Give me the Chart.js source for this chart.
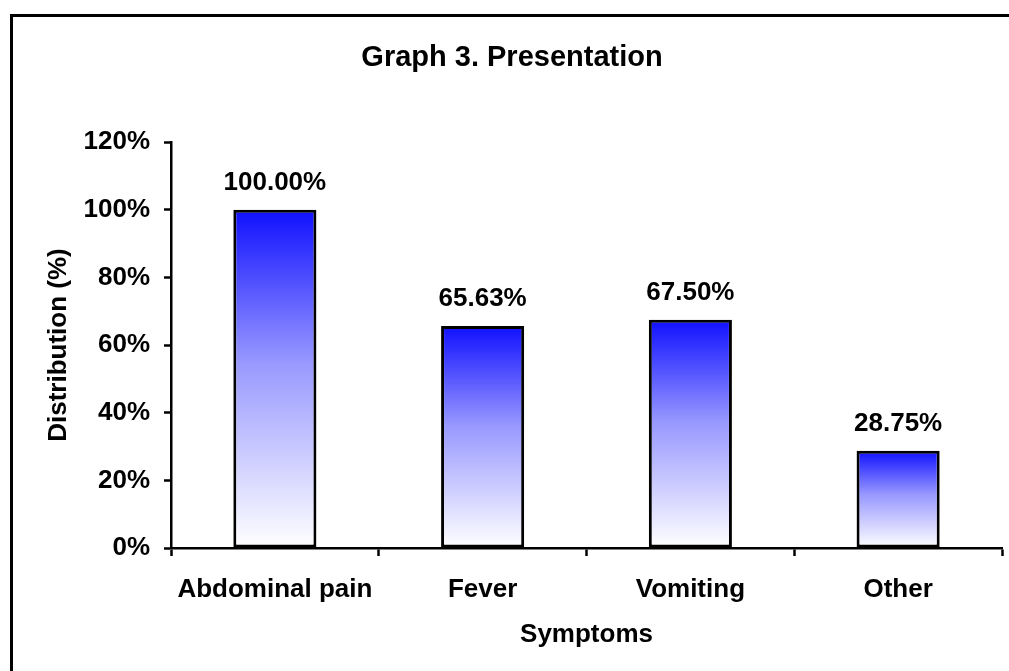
<!DOCTYPE html>
<html>
<head>
<meta charset="utf-8">
<title>Graph 3. Presentation</title>
<script src="https://cdn.jsdelivr.net/npm/chart.js@4.4.1/dist/chart.umd.min.js"></script>
<style>
  html, body { margin: 0; padding: 0; background: #ffffff; }
  #wrap { width: 1009px; height: 671px; position: relative; }
</style>
</head>
<body>
<div id="wrap"><canvas id="chart" width="1009" height="671"></canvas></div>
<script>
// Presenting symptoms and the share of patients with each one
const categories = ['Abdominal pain', 'Fever', 'Vomiting', 'Other'];
const distribution = [100.00, 65.63, 67.50, 28.75];
const yTicks = [0, 20, 40, 60, 80, 100, 120];

const FONT = "'Liberation Sans', Arial, Helvetica, sans-serif";

// White page with a black frame around the whole figure
const framePlugin = {
  id: 'frame',
  beforeDraw(chart) {
    const c = chart.ctx;
    c.save();
    c.fillStyle = '#ffffff';
    c.fillRect(0, 0, chart.width, chart.height);
    c.strokeStyle = '#000000';
    c.lineWidth = 3;
    c.strokeRect(11.5, 15.5, chart.width + 20, chart.height + 20);
    c.restore();
  }
};

// Percentage written above each bar
const valueLabels = {
  id: 'valueLabels',
  afterDatasetsDraw(chart) {
    const c = chart.ctx;
    const meta = chart.getDatasetMeta(0);
    c.save();
    c.font = 'bold 26px ' + FONT;
    c.fillStyle = '#000000';
    c.textAlign = 'center';
    c.textBaseline = 'alphabetic';
    meta.data.forEach((bar, i) => {
      const v = chart.data.datasets[0].data[i];
      c.fillText(v.toFixed(2) + '%', bar.x, bar.y - 20);
    });
    c.restore();
  }
};

// Each bar fades from blue at its top to white at the axis
function barGradient(context) {
  const chart = context.chart;
  if (!chart.chartArea) return '#3030ff';
  const y = chart.scales.y;
  const top = y.getPixelForValue(context.raw);
  const base = y.getPixelForValue(0);
  const g = chart.ctx.createLinearGradient(0, top, 0, base);
  g.addColorStop(0, '#1010ff');
  g.addColorStop(0.45, '#9898ff');
  g.addColorStop(1, '#ffffff');
  return g;
}

new Chart(document.getElementById('chart'), {
  type: 'bar',
  data: {
    labels: categories,
    datasets: [{
      data: distribution,
      backgroundColor: barGradient,
      borderColor: '#000000',
      borderWidth: 3,
      borderSkipped: false,
      barPercentage: 0.4,
      categoryPercentage: 1.0
    }]
  },
  options: {
    responsive: false,
    animation: false,
    layout: { padding: { left: 22, right: 7, top: 0, bottom: 0 } },
    plugins: {
      legend: { display: false },
      tooltip: { enabled: false },
      title: {
        display: true,
        text: 'Graph 3. Presentation',
        color: '#000000',
        font: { family: FONT, size: 29, weight: 'bold', lineHeight: 1.2 },
        padding: { top: 40.6, bottom: 66.6 }
      }
    },
    scales: {
      x: {
        afterFit(scale) { scale.height = 123; },
        grid: {
          drawOnChartArea: false,
          offset: true,
          tickLength: 8,
          tickWidth: 2.5,
          color: '#000000'
        },
        border: { display: true, color: '#000000', width: 2.5 },
        ticks: {
          color: '#000000',
          padding: 18,
          maxRotation: 0,
          font: { family: FONT, size: 26, weight: 'bold' }
        },
        title: {
          display: true,
          text: 'Symptoms',
          color: '#000000',
          font: { family: FONT, size: 26, weight: 'bold', lineHeight: 1.2 },
          padding: { top: 0, bottom: 20.4 }
        }
      },
      y: {
        min: 0,
        max: 120,
        afterFit(scale) { scale.width = 149; },
        afterBuildTicks(scale) { scale.ticks = yTicks.map(v => ({ value: v })); },
        grid: {
          drawOnChartArea: false,
          tickLength: 7,
          tickWidth: 2.5,
          color: '#000000'
        },
        border: { display: true, color: '#000000', width: 2.5 },
        ticks: {
          color: '#000000',
          padding: 14,
          font: { family: FONT, size: 26, weight: 'bold' },
          callback: v => v + '%'
        },
        title: {
          display: true,
          text: 'Distribution (%)',
          color: '#000000',
          font: { family: FONT, size: 26, weight: 'bold', lineHeight: 1.2 },
          padding: { top: 21, bottom: 0 }
        }
      }
    }
  },
  plugins: [framePlugin, valueLabels]
});
</script>
</body>
</html>
